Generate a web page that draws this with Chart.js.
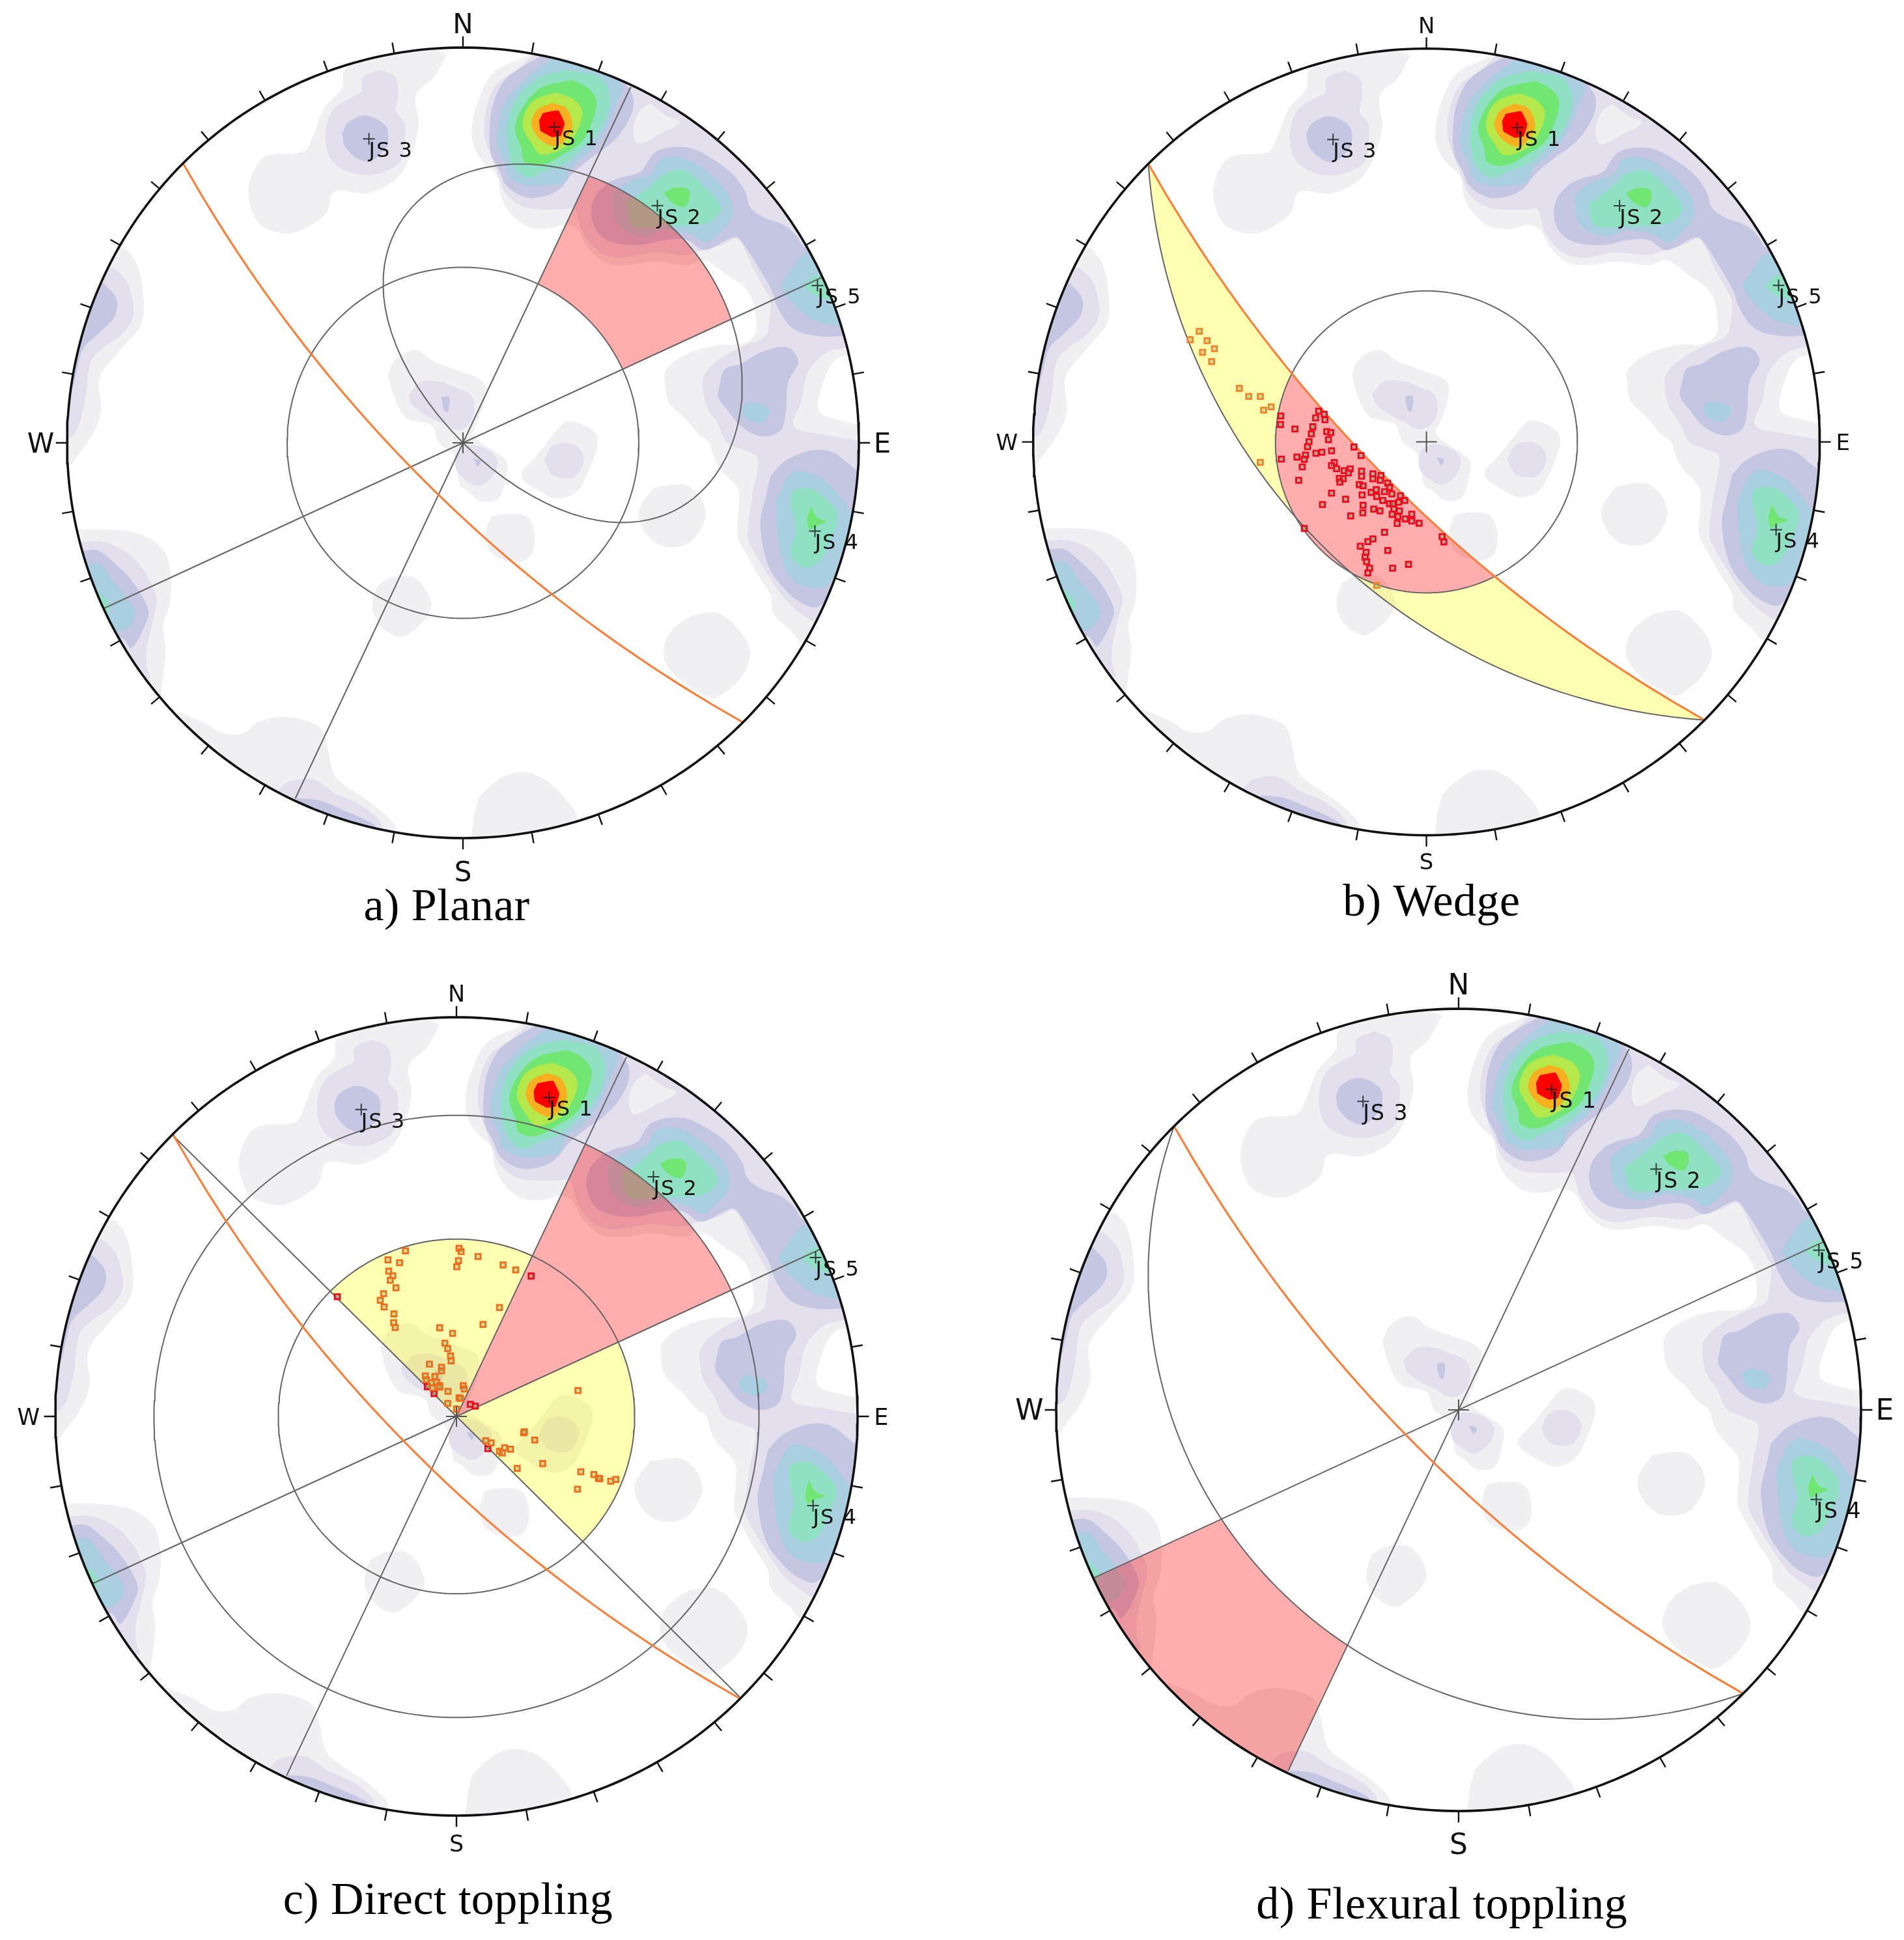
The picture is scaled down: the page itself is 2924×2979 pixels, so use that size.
<!DOCTYPE html>
<html><head><meta charset="utf-8">
<script src="https://cdn.jsdelivr.net/npm/chart.js@4"></script>
<style>html,body{margin:0;padding:0;background:#fff}#wrap{position:relative;width:2924px;height:2979px;overflow:hidden}canvas{position:absolute}</style>
</head><body><div id="wrap"></div>
<script>
// ---- net coordinates: rim radius 1558, x east, y south ----
const RIM = 1558;
const compassLabels = ['N','S','W','E'];
const compassPoints = [[0,-1642],[0,1675],[-1662,10],[1650,10]];
const jsNames  = ['JS 1','JS 2','JS 3','JS 4','JS 5'];
const jsPoints = [[360,-1245],[765,-935],[-370,-1198],[1385,348],[1395,-620]];

const contourColors = ['#f0eff1','#e3dfec','#c4c6e2','#a9cfe0','#90e0c4','#72e672','#b5e84a','#f9b020','#ff0000'];

const contourL1 = [
 [[240,-1520],[120,-1460],[60,-1350],[35,-1240],[45,-1160],[85,-1100],[135,-1050],[150,-970],[190,-900],[260,-850],[340,-845],[400,-860],[450,-840],[490,-770],[560,-710],[640,-700],[760,-715],[880,-700],[950,-720],[1040,-660],[1110,-610],[1140,-560],[1150,-510],[1150,-430],[1100,-390],[1000,-385],[880,-350],[800,-290],[795,-230],[810,-160],[880,-90],[930,-30],[970,0],[985,50],[1010,100],[1080,180],[1085,250],[1080,370],[1110,430],[1160,520],[1210,600],[1220,670],[1290,740],[1345,790],[1700,800],[1750,-400],[1100,-1500],[500,-1700]],
 [[-65,-1530],[-115,-1440],[-185,-1370],[-175,-1250],[-215,-1110],[-275,-1030],[-375,-985],[-505,-990],[-535,-910],[-595,-860],[-685,-825],[-785,-850],[-825,-900],[-845,-990],[-825,-1070],[-775,-1130],[-625,-1150],[-590,-1210],[-545,-1320],[-475,-1400],[-465,-1470],[-275,-1620]],
 [[-1325,-765],[-1285,-710],[-1260,-600],[-1265,-470],[-1345,-370],[-1430,-255],[-1425,-120],[-1465,-20],[-1525,60],[-1545,85],[-1700,85],[-1700,-765]],
 [[-1515,340],[-1345,345],[-1245,370],[-1175,430],[-1150,520],[-1155,640],[-1180,720],[-1170,820],[-1185,960],[-1195,1000],[-1700,1000],[-1700,340]],
 [[-1125,1060],[-1025,1100],[-945,1145],[-865,1145],[-805,1100],[-695,1080],[-565,1120],[-535,1190],[-505,1310],[-435,1370],[-335,1440],[-265,1520],[-265,1700],[-1125,1300]],
 [[-335,560],[-275,530],[-185,535],[-125,630],[-145,690],[-195,740],[-245,765],[-305,740],[-350,680],[-355,620]],
 [[-295,-270],[-265,-330],[-185,-365],[-115,-320],[-35,-290],[80,-240],[85,-170],[60,-90],[40,-30],[170,70],[170,130],[140,220],[70,230],[20,190],[-10,170],[-35,50],[-95,0],[-125,-70],[-225,-100],[-275,-190]],
 [[330,0],[400,-80],[450,-80],[520,-40],[530,0],[525,30],[490,120],[450,190],[380,220],[320,200],[230,130],[290,50]],
 [[110,290],[170,280],[250,290],[280,350],[275,430],[240,465],[170,465],[110,430],[90,360]],
 [[750,175],[870,165],[930,210],[955,280],[930,350],[880,400],[800,410],[740,380],[700,320],[695,260]],
 [[900,680],[1000,670],[1080,730],[1130,820],[1110,900],[1060,960],[990,1005],[940,990],[850,930],[795,860],[795,790],[830,730]],
 [[60,1400],[100,1360],[170,1310],[260,1300],[340,1340],[400,1400],[450,1480],[450,1700],[40,1700],[40,1500]]
];
const contourL2 = [
 [[290,-1540],[210,-1470],[130,-1410],[90,-1310],[85,-1210],[110,-1130],[140,-1050],[170,-980],[240,-930],[320,-920],[390,-920],[440,-920],[470,-830],[540,-750],[620,-730],[750,-750],[880,-740],[930,-755],[1020,-780],[1075,-805],[1105,-770],[1140,-690],[1190,-600],[1210,-560],[1205,-480],[1190,-420],[1100,-380],[1010,-330],[950,-270],[945,-210],[960,-140],[1000,-80],[1040,0],[1110,30],[1160,60],[1140,200],[1120,370],[1140,420],[1200,520],[1270,620],[1340,680],[1400,710],[1700,700],[1750,-400],[1100,-1500],[500,-1700]],
 [[-325,-1470],[-265,-1440],[-255,-1360],[-265,-1310],[-230,-1260],[-230,-1180],[-245,-1110],[-305,-1070],[-375,-1055],[-455,-1070],[-515,-1110],[-540,-1180],[-535,-1260],[-505,-1320],[-435,-1365],[-400,-1385],[-395,-1440]],
 [[-1375,-690],[-1325,-640],[-1300,-560],[-1300,-490],[-1350,-420],[-1415,-375],[-1465,-320],[-1485,-180],[-1515,-60],[-1550,-20],[-1700,-20],[-1700,-690]],
 [[-1500,390],[-1415,390],[-1325,430],[-1265,490],[-1225,560],[-1205,620],[-1225,720],[-1245,810],[-1245,880],[-1235,930],[-1700,900],[-1700,390]],
 [[-725,1370],[-685,1335],[-595,1325],[-545,1350],[-505,1380],[-415,1420],[-345,1470],[-315,1520],[-315,1700],[-725,1600]],
 [[-215,-190],[-165,-240],[-85,-240],[-35,-220],[30,-190],[45,-130],[20,-70],[-30,-50],[-90,-80],[-150,-110],[-200,-150]],
 [[-30,50],[0,15],[70,15],[130,55],[135,95],[105,145],[60,170],[15,150],[-25,110]],
 [[320,70],[350,15],[410,0],[460,25],[475,70],[445,130],[400,140],[350,125]]
];
const patchGrey = [
 [[735,-1340],[800,-1290],[855,-1265],[780,-1220],[690,-1180],[670,-1230],[690,-1300]],
 [[1540,-380],[1440,-360],[1380,-310],[1350,-260],[1330,-160],[1300,-70],[1370,-40],[1700,-30],[1700,-400]]
];
const patchWhite = [
 [[1535,-350],[1470,-330],[1430,-270],[1400,-130],[1480,-90],[1650,-80],[1700,-350]]
];
const contourL3 = [
 [[300,-1520],[230,-1480],[165,-1430],[120,-1340],[105,-1240],[110,-1140],[140,-1080],[170,-1015],[240,-970],[310,-970],[380,-1000],[430,-1060],[500,-1120],[570,-1170],[620,-1220],[665,-1300],[670,-1360],[650,-1400],[500,-1600]],
 [[570,-1025],[620,-1045],[700,-1070],[750,-1140],[820,-1165],[900,-1160],[980,-1120],[1060,-1060],[1110,-990],[1130,-930],[1180,-890],[1260,-860],[1310,-820],[1350,-770],[1700,-800],[1700,-420],[1480,-420],[1400,-420],[1300,-450],[1240,-530],[1215,-600],[1170,-680],[1120,-760],[1080,-810],[1050,-805],[950,-760],[880,-800],[800,-800],[700,-780],[590,-790],[530,-830],[505,-900],[520,-970]],
 [[1010,-230],[1030,-290],[1090,-310],[1180,-360],[1280,-375],[1320,-320],[1280,-240],[1270,-120],[1250,-50],[1180,-25],[1100,-60],[1040,-130],[1005,-180]],
 [[1210,130],[1270,70],[1370,30],[1450,35],[1520,85],[1560,130],[1550,250],[1480,540],[1400,645],[1330,630],[1260,570],[1200,480],[1170,320],[1190,220]],
 [[-475,-1220],[-455,-1260],[-385,-1290],[-305,-1250],[-295,-1190],[-305,-1160],[-365,-1110],[-415,-1120],[-465,-1170]],
 [[-1415,-630],[-1365,-570],[-1370,-500],[-1435,-430],[-1495,-370],[-1525,-260],[-1550,-200],[-1700,-200],[-1700,-630]],
 [[-1495,425],[-1435,425],[-1365,480],[-1305,540],[-1245,640],[-1240,690],[-1305,810],[-1340,770],[-1700,700],[-1700,425]],
 [[-655,1400],[-565,1410],[-465,1450],[-375,1490],[-340,1520],[-340,1700],[-700,1600]],
 [[-85,-180],[-55,-180],[-60,-120],[-75,-130]],
 [[40,60],[70,70],[58,92]]
];
const contourL4 = [
 [[330,-1500],[240,-1430],[170,-1350],[140,-1260],[135,-1170],[165,-1100],[180,-1050],[240,-1015],[330,-1015],[400,-1030],[420,-1080],[500,-1150],[560,-1230],[600,-1330],[625,-1410],[500,-1600]],
 [[585,-975],[615,-1005],[680,-1040],[740,-1060],[780,-1120],[860,-1125],[960,-1070],[1030,-1000],[1060,-940],[1055,-880],[1020,-840],[960,-790],[900,-820],[800,-840],[720,-815],[650,-830],[600,-880]],
 [[1250,-620],[1290,-680],[1350,-745],[1600,-745],[1600,-470],[1420,-470],[1340,-510],[1280,-570]],
 [[1095,-140],[1130,-160],[1200,-140],[1205,-110],[1170,-80],[1110,-100]],
 [[1230,230],[1300,115],[1410,140],[1490,220],[1530,300],[1490,430],[1440,560],[1360,570],[1290,530],[1250,440],[1235,320]],
 [[-1475,475],[-1425,480],[-1375,550],[-1325,610],[-1290,680],[-1350,745],[-1700,700],[-1700,475]]
];
const contourL5 = [
 [[400,-1470],[300,-1440],[220,-1370],[180,-1280],[175,-1180],[200,-1090],[260,-1045],[320,-1070],[400,-1100],[470,-1160],[530,-1220],[570,-1300],[575,-1380],[540,-1440],[470,-1460]],
 [[640,-945],[680,-970],[740,-1015],[790,-1060],[870,-1075],[950,-1010],[1015,-930],[985,-880],[930,-860],[800,-855],[670,-855]],
 [[1290,240],[1300,190],[1370,180],[1440,230],[1475,290],[1440,400],[1400,470],[1340,490],[1290,440],[1310,340]],
 [[1340,-615],[1390,-660],[1500,-640],[1500,-560],[1400,-575]],
 [[-1435,585],[-1395,630],[-1400,670],[-1480,640]]
];
const contourL6 = [
 [[430,-1430],[490,-1400],[525,-1350],[510,-1270],[470,-1190],[400,-1140],[310,-1095],[240,-1110],[230,-1160],[205,-1240],[240,-1330],[310,-1400]],
 [[790,-985],[830,-1005],[885,-1000],[890,-960],[870,-930],[820,-950]],
 [[1370,250],[1395,295],[1430,310],[1395,325],[1365,340],[1355,300]]
];
const contourL7 = [[[370,-1380],[440,-1350],[470,-1300],[440,-1210],[400,-1165],[310,-1135],[270,-1180],[235,-1250],[260,-1330],[310,-1365]]];
const contourL8 = [[[350,-1340],[405,-1320],[430,-1260],[420,-1220],[370,-1170],[310,-1190],[270,-1250],[290,-1310]]];
const contourL9 = [[[315,-1300],[375,-1310],[400,-1260],[385,-1210],[350,-1205],[305,-1230],[300,-1270]]];

// structural planes: [dip, dip direction] in degrees
const slopePlane = [74.4,225];
const wedgePlane = [49,225];
const flexuralPlane = [25.4,225];
// azimuths of the limit lines through the centre, degrees
const azNNE = 25.2, azENE = 65.2, azNW = 315, azSE = 135, azSSW = 205.2, azWSW = 245.2;
const lineNNE = [[660,-1402],[-660,1402]];
const lineENE = [[1412,-652],[-1412,652]];
const lineNW  = [[-1100,-1095],[1100,1095]];
const circleR = {friction:692, b:598, c:1175};
const wedgeCut = [297,153]; // azimuths where the slope trace meets the panel b circle

// poles (markers)
const polesYellowB = [[-900,-438],[-936,-405],[-869,-401],[-840,-369],[-887,-355],[-851,-318],[-741,-212],[-704,-180],[-658,-180],[-645,-126],[-615,-139],[-658,81],[-197,568]];
const polesRedB = [[-427,-122],[-405,-110],[-439,-95],[-402,-88],[-577,-103],[-578,-69],[-521,-51],[-450,-60],[-456,-32],[-395,-41],[-379,-37],[-388,-9],[-465,-1],[-471,19],[-287,20],[-259,54],[-438,45],[-414,41],[-376,35],[-479,52],[-513,60],[-484,69],[-575,68],[-492,99],[-365,82],[-376,94],[-356,106],[-326,114],[-302,107],[-309,123],[-257,116],[-257,136],[-212,126],[-180,133],[-212,146],[-183,152],[-154,163],[-345,144],[-330,146],[-343,159],[-506,152],[-266,169],[-251,174],[-146,180],[-219,200],[-199,189],[-197,216],[-166,197],[-137,206],[-103,213],[-86,232],[-173,232],[-146,245],[-133,245],[-110,239],[-376,203],[-255,210],[-320,227],[-412,248],[-251,251],[-209,266],[-184,273],[-129,266],[-107,273],[-252,281],[-300,293],[-136,287],[-113,296],[-58,286],[-84,305],[-58,313],[-29,322],[-116,323],[-166,358],[-484,343],[62,375],[69,396],[-212,384],[-232,395],[-262,413],[-153,430],[-239,437],[-243,457],[-237,474],[-71,485],[-225,500],[-134,500],[-232,519]];
const polesOrangeC = [[-198,-646],[-266,-611],[-221,-600],[-263,-567],[-247,-549],[-257,-531],[-235,-502],[-283,-479],[-296,-453],[-281,-427],[-243,-400],[-244,-366],[-238,-347],[10,-656],[18,-643],[8,-608],[1,-584],[84,-624],[181,-591],[230,-572],[167,-425],[103,-359],[-65,-346],[-15,-324],[-45,-286],[-34,-265],[-23,-236],[-21,-217],[-105,-204],[-58,-192],[-58,-178],[-84,-156],[-121,-158],[-117,-143],[-98,-131],[-77,-134],[-65,-120],[-65,-114],[-93,-111],[-33,-98],[26,-120],[30,-107],[10,-73],[16,-70],[-34,-51],[0,-29],[472,-101],[261,64],[264,60],[304,92],[114,95],[135,103],[187,122],[210,128],[167,136],[178,143],[236,203],[335,184],[483,216],[534,227],[551,241],[557,243],[599,253],[619,246],[470,284]];
const polesRedC = [[290,-548],[-463,-467],[54,-47],[73,-40],[122,126],[-113,-116],[-87,-89]];

const tickAngles = [0,10,20,30,40,50,60,70,80,90,100,110,120,130,140,150,160,170,180,190,200,210,220,230,240,250,260,270,280,290,300,310,320,330,340,350];

// ---- stereographic projection helpers ----
const D = Math.PI/180;
const xy = a => a.map(p => ({x:p[0], y:p[1]}));
const polar = (r,az) => [r*Math.sin(az*D), -r*Math.cos(az*D)];
const steps = (a0,a1,step) => { const n=Math.max(1,Math.round(Math.abs(a1-a0)/step)), o=[]; for(let i=0;i<=n;i++)o.push(a0+(a1-a0)*i/n); return o; };
const azArc = (r,a0,a1,step=1.5) => steps(a0,a1,step).map(a=>polar(r,a));
const appDip = (plane,az) => Math.atan(Math.tan(plane[0]*D)*Math.cos((az-plane[1])*D))/D;
const greatCircle = (plane,a0=plane[1]-90,a1=plane[1]+90,step=1.5) =>
  steps(a0,a1,step).map(az=>polar(RIM*Math.tan((90-appDip(plane,az))/2*D),az));
// daylight envelope: poles of planes that share the slope's apparent dip
const envelope = (plane,a0=plane[1]-90,a1=plane[1]+90,step=1.5) =>
  steps(a0,a1,step).map(t=>polar(RIM*Math.tan(appDip(plane,t)/2*D),t+180));

const PINK='rgba(255,0,0,0.32)', YELLOW='rgba(255,255,0,0.30)', GREY='#666666', ORANGE='#ff7b33';

let stack;
const add = ds => stack.push(ds);
const shape = (pts,color,tension,clipRim,excludeR) => add({data:xy(pts),showLine:true,borderWidth:0,borderColor:'transparent',pointRadius:0,tension,shapeFill:color,clipRim:!!clipRim,excludeR});
const stroke = (pts,color,w) => add({data:xy(pts),showLine:true,fill:false,borderColor:color,borderWidth:w,pointRadius:0,tension:0});
const closed = p => p.concat([p[0]]);
function addContours(){
  [[contourL1,0],[contourL2,1],[patchGrey,0]].forEach(([ps,c])=>ps.forEach(p=>shape(closed(p),contourColors[c],0.35,true)));
  patchWhite.forEach(p=>shape(closed(p),'#ffffff',0.35,true));
  [[contourL3,2],[contourL4,3],[contourL5,4],[contourL6,5],[contourL7,6],[contourL8,7]]
    .forEach(([ps,c])=>ps.forEach(p=>shape(closed(p),contourColors[c],0.35,true)));
  contourL9.forEach(p=>shape(closed(p),contourColors[8],0.08,true));
}
function addRim(){
  const t=[]; tickAngles.forEach(a=>{const p=polar(RIM,a),q=polar(RIM+44,a);
    t.push({x:p[0],y:p[1]},{x:q[0],y:q[1]},{x:NaN,y:NaN});});
  add({data:t,showLine:true,borderColor:'#111',borderWidth:2.4,pointRadius:0,tension:0});
  stroke(azArc(RIM,0,360,1),'#111',3.6);
}
function addCommon(){
  add({data:xy(jsPoints),showLine:false,pointStyle:'cross',pointRadius:9,pointBorderWidth:2,pointBorderColor:'rgba(30,30,30,.85)',borderColor:'rgba(30,30,30,.85)',borderWidth:2});
  add({data:[{x:0,y:0}],showLine:false,pointStyle:'cross',pointRadius:16,pointBorderWidth:2,pointBorderColor:'#555',borderColor:'#555',borderWidth:2});
}
function markers(pts,border,fill){
  add({data:xy(pts),showLine:false,pointStyle:'rect',pointRadius:5.5,pointBorderWidth:2.8,pointBorderColor:border,pointBackgroundColor:fill,borderColor:border,backgroundColor:fill});
}
const panelBuilders = {
 a(){ addContours();
  shape(envelope(slopePlane,azNNE+180,azENE+180).concat(azArc(circleR.friction,azENE,azNNE)),PINK,0);
  stroke(azArc(circleR.friction,0,360),GREY,2);
  stroke(envelope(slopePlane),GREY,2);
  stroke(lineNNE,GREY,2); stroke(lineENE,GREY,2);
  stroke(greatCircle(slopePlane),ORANGE,3); },
 b(){ addContours();
  shape(greatCircle(slopePlane).concat(greatCircle(wedgePlane).reverse()),YELLOW,0,false,circleR.b);
  shape(greatCircle(slopePlane,wedgeCut[0],wedgeCut[1]).concat(azArc(circleR.b,wedgeCut[1],wedgeCut[0])),PINK,0);
  stroke(greatCircle(wedgePlane),GREY,2);
  stroke(azArc(circleR.b,0,360),GREY,2);
  stroke(greatCircle(slopePlane),ORANGE,3);
  markers(polesYellowB,'#f5802a','rgba(120,190,110,.45)');
  markers(polesRedB,'#f8041a','rgba(110,170,130,.6)'); },
 c(){ addContours();
  shape([[0,0]].concat(azArc(circleR.friction,azNW,azNNE+360)),YELLOW,0);
  shape([[0,0]].concat(azArc(circleR.friction,azENE,azSE)),YELLOW,0);
  shape([[0,0]].concat(azArc(circleR.c,azENE,azNNE)),PINK,0);
  stroke(azArc(circleR.friction,0,360),GREY,2);
  stroke(azArc(circleR.c,0,360),GREY,2);
  stroke(lineNNE,GREY,2); stroke(lineENE,GREY,2); stroke(lineNW,GREY,2);
  stroke(greatCircle(slopePlane),ORANGE,3);
  markers(polesRedC,'#f8041a','rgba(110,170,130,.6)');
  markers(polesOrangeC,'#f56a1a','rgba(120,190,110,.45)'); },
 d(){ addContours();
  shape(azArc(RIM,azWSW,azSSW).concat(greatCircle(flexuralPlane,azSSW,azWSW)),PINK,0);
  stroke(greatCircle(flexuralPlane),GREY,2);
  stroke(lineNNE,GREY,2); stroke(lineENE,GREY,2);
  stroke(greatCircle(slopePlane),ORANGE,3); }
};

// ---- plugins: polygon fill & text at scale positions ----
Chart.register({id:'netFill',beforeDatasetDraw(chart,args){
  const ds=chart.data.datasets[args.index]; if(!ds.shapeFill) return;
  const ctx=chart.ctx, pts=args.meta.data, sx=chart.scales.x, sy=chart.scales.y;
  const x0=sx.getPixelForValue(0), y0=sy.getPixelForValue(0);
  const rpx=r=>Math.abs(sx.getPixelForValue(r)-x0), rpy=r=>Math.abs(sy.getPixelForValue(r)-y0);
  args.meta.dataset.updateControlPoints(chart.chartArea,'x');
  ctx.save();
  if(ds.clipRim){ctx.beginPath();ctx.ellipse(x0,y0,rpx(RIM),rpy(RIM),0,0,Math.PI*2);ctx.clip();}
  if(ds.excludeR){ctx.beginPath();ctx.rect(0,0,chart.width,chart.height);ctx.ellipse(x0,y0,rpx(ds.excludeR),rpy(ds.excludeR),0,0,Math.PI*2);ctx.clip('evenodd');}
  ctx.beginPath(); ctx.moveTo(pts[0].x,pts[0].y);
  for(let i=1;i<pts.length;i++){const p=pts[i-1],q=pts[i];
    if(ds.tension) ctx.bezierCurveTo(p.cp2x,p.cp2y,q.cp1x,q.cp1y,q.x,q.y); else ctx.lineTo(q.x,q.y);}
  ctx.closePath(); ctx.fillStyle=ds.shapeFill; ctx.fill(); ctx.restore();
}});
Chart.register({id:'netText',afterDatasetsDraw(chart,a,opts){
  const ctx=chart.ctx,sx=chart.scales.x,sy=chart.scales.y;
  (opts.items||[]).forEach(t=>{ctx.save();ctx.font=t.font;ctx.fillStyle=t.color||'#111';ctx.textAlign=t.align||'center';ctx.textBaseline='middle';
    if(t.spacing) ctx.letterSpacing=t.spacing;
    ctx.fillText(t.text,sx.getPixelForValue(t.x),sy.getPixelForValue(t.y));ctx.restore();});
}});

// ---- page layout ----
const panels = [
 {key:'a',cx:711,cy:680,rx:608,ry:607,box:[0,0,1462,1489],title:'a) Planar',tx:-64,ty:1835,cFont:42,jsFont:32,sShift:25},
 {key:'b',cx:2190.6,cy:678.6,rx:604,ry:604,box:[1462,0,1462,1489],title:'b) Wedge',tx:20,ty:1828,cFont:34,jsFont:32,sShift:-5},
 {key:'c',cx:701,cy:2175,rx:616,ry:613,box:[0,1489,1462,1490],title:'c) Direct toppling',tx:-33,ty:1895,cFont:35,jsFont:32,sShift:0},
 {key:'d',cx:2240,cy:2165,rx:618,ry:616,box:[1462,1489,1462,1490],title:'d) Flexural toppling',tx:-65,ty:1930,cFont:44,jsFont:33,sShift:20}
];
const wrap=document.getElementById('wrap');
panels.forEach(p=>{
  const [L,T,W,H]=p.box, cv=document.createElement('canvas');
  cv.width=W;cv.height=H;cv.style.left=L+'px';cv.style.top=T+'px';cv.style.width=W+'px';cv.style.height=H+'px';wrap.appendChild(cv);
  stack=[]; panelBuilders[p.key](); addCommon(); addRim();
  stack.forEach((d,i)=>{d.order=stack.length-i;});
  const ux=p.rx/RIM, uy=p.ry/RIM;
  const items=[];
  compassLabels.forEach((t,i)=>items.push({text:t,x:compassPoints[i][0],y:compassPoints[i][1]+(t==='S'?p.sShift:0),font:p.cFont+'px "DejaVu Sans"'}));
  jsNames.forEach((t,i)=>items.push({text:t,x:jsPoints[i][0],y:jsPoints[i][1]+50,align:'left',spacing:'2px',font:p.jsFont+'px "DejaVu Sans"'}));
  items.push({text:p.title,x:p.tx,y:p.ty,font:'70px "Liberation Serif"',spacing:'0.5px',color:'#000'});
  new Chart(cv,{type:'scatter',data:{datasets:stack},options:{
    responsive:false,animation:false,devicePixelRatio:1,layout:{padding:0,autoPadding:false},
    plugins:{legend:{display:false},tooltip:{enabled:false},title:{display:false},netText:{items}},
    scales:{x:{type:'linear',display:false,min:(L-p.cx)/ux,max:(L+W-p.cx)/ux},
            y:{type:'linear',display:false,reverse:true,min:(T-p.cy)/uy,max:(T+H-p.cy)/uy}}
  }});
});
</script></body></html>
